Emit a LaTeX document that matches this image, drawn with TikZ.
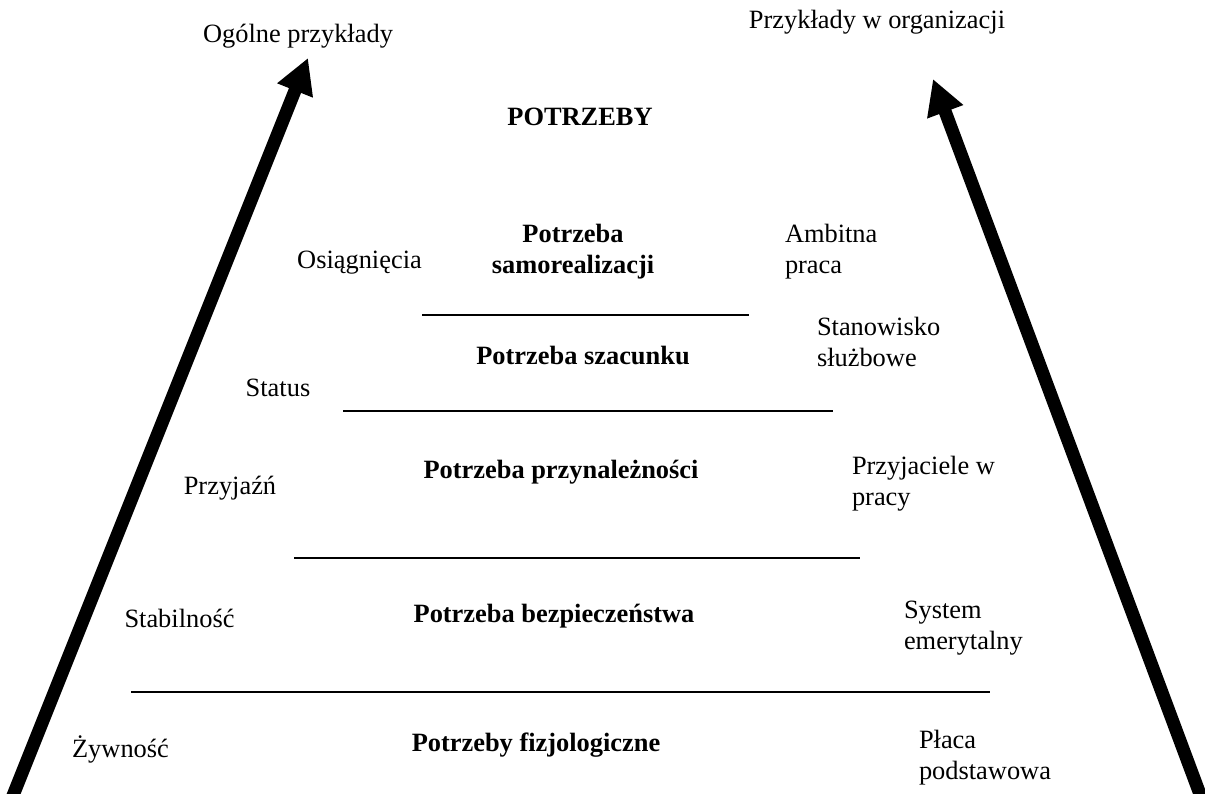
\documentclass[tikz,border=0pt]{standalone}
\usepackage{fontspec}
\setmainfont{Liberation Serif}
\usetikzlibrary{arrows.meta}
\newcommand{\twolines}[3]{\begin{tabular}[t]{@{}#1@{}}#2\\#3\end{tabular}}
\begin{document}
\begin{tikzpicture}[x=1pt,y=-1pt,
  lbl/.style={inner sep=0pt, outer sep=0pt, font=\fontsize{26.4}{31.5}\selectfont},
  need/.style={lbl, font=\fontsize{26.4}{31.5}\selectfont\bfseries},
  level/.style={line width=2pt},
  bigarrow/.style={line width=13pt, -{Triangle[length=35pt,width=36pt]}}]
\useasboundingbox (0,0) rectangle (1205,793);

% column headings and title
\node[lbl, anchor=base] (gen) at (298,42) {Ogólne przykłady};
\node[lbl, anchor=base] (org) at (877,28) {Przykłady w organizacji};
\node[need, anchor=base] (title) at (580,125) {POTRZEBY};

% rising arrows
\coordinate (la) at (6,813);
\coordinate (lt) at (308,58);
\coordinate (ra) at (1207,813);
\coordinate (rt) at (933,79);
\draw[bigarrow] (la) -- (lt);
\draw[bigarrow] (ra) -- (rt);

% self-actualisation
\node[need, anchor=base] (n5) at (573,242) {\twolines{c}{Potrzeba}{samorealizacji}};
\node[lbl, anchor=base] (g5) at (359.5,268) {Osiągnięcia};
\node[lbl, anchor=base west] (o5) at (785,242) {\twolines{l}{Ambitna}{praca}};
\coordinate (l1a) at (422,315);
\coordinate (l1b) at (749,315);
\draw[level] (l1a) -- (l1b);

% esteem
\node[need, anchor=base] (n4) at (583,364) {Potrzeba szacunku};
\node[lbl, anchor=base] (g4) at (278,396) {Status};
\node[lbl, anchor=base west] (o4) at (817,335) {\twolines{l}{Stanowisko}{służbowe}};
\coordinate (l2a) at (343,411);
\coordinate (l2b) at (833,411);
\draw[level] (l2a) -- (l2b);

% belonging
\node[need, anchor=base] (n3) at (561,478) {Potrzeba przynależności};
\node[lbl, anchor=base] (g3) at (230,494) {Przyjaźń};
\node[lbl, anchor=base west] (o3) at (852,474) {\twolines{l}{Przyjaciele w}{pracy}};
\coordinate (l3a) at (294,558);
\coordinate (l3b) at (860,558);
\draw[level] (l3a) -- (l3b);

% safety
\node[need, anchor=base] (n2) at (554,622) {Potrzeba bezpieczeństwa};
\node[lbl, anchor=base] (g2) at (179.5,627) {Stabilność};
\node[lbl, anchor=base west] (o2) at (904,618) {\twolines{l}{System}{emerytalny}};
\coordinate (l4a) at (131,692);
\coordinate (l4b) at (990,692);
\draw[level] (l4a) -- (l4b);

% physiological
\node[need, anchor=base] (n1) at (536,751) {Potrzeby fizjologiczne};
\node[lbl, anchor=base] (g1) at (120.5,757) {Żywność};
\node[lbl, anchor=base west] (o1) at (919,748) {\twolines{l}{Płaca}{podstawowa}};
\end{tikzpicture}
\end{document}
